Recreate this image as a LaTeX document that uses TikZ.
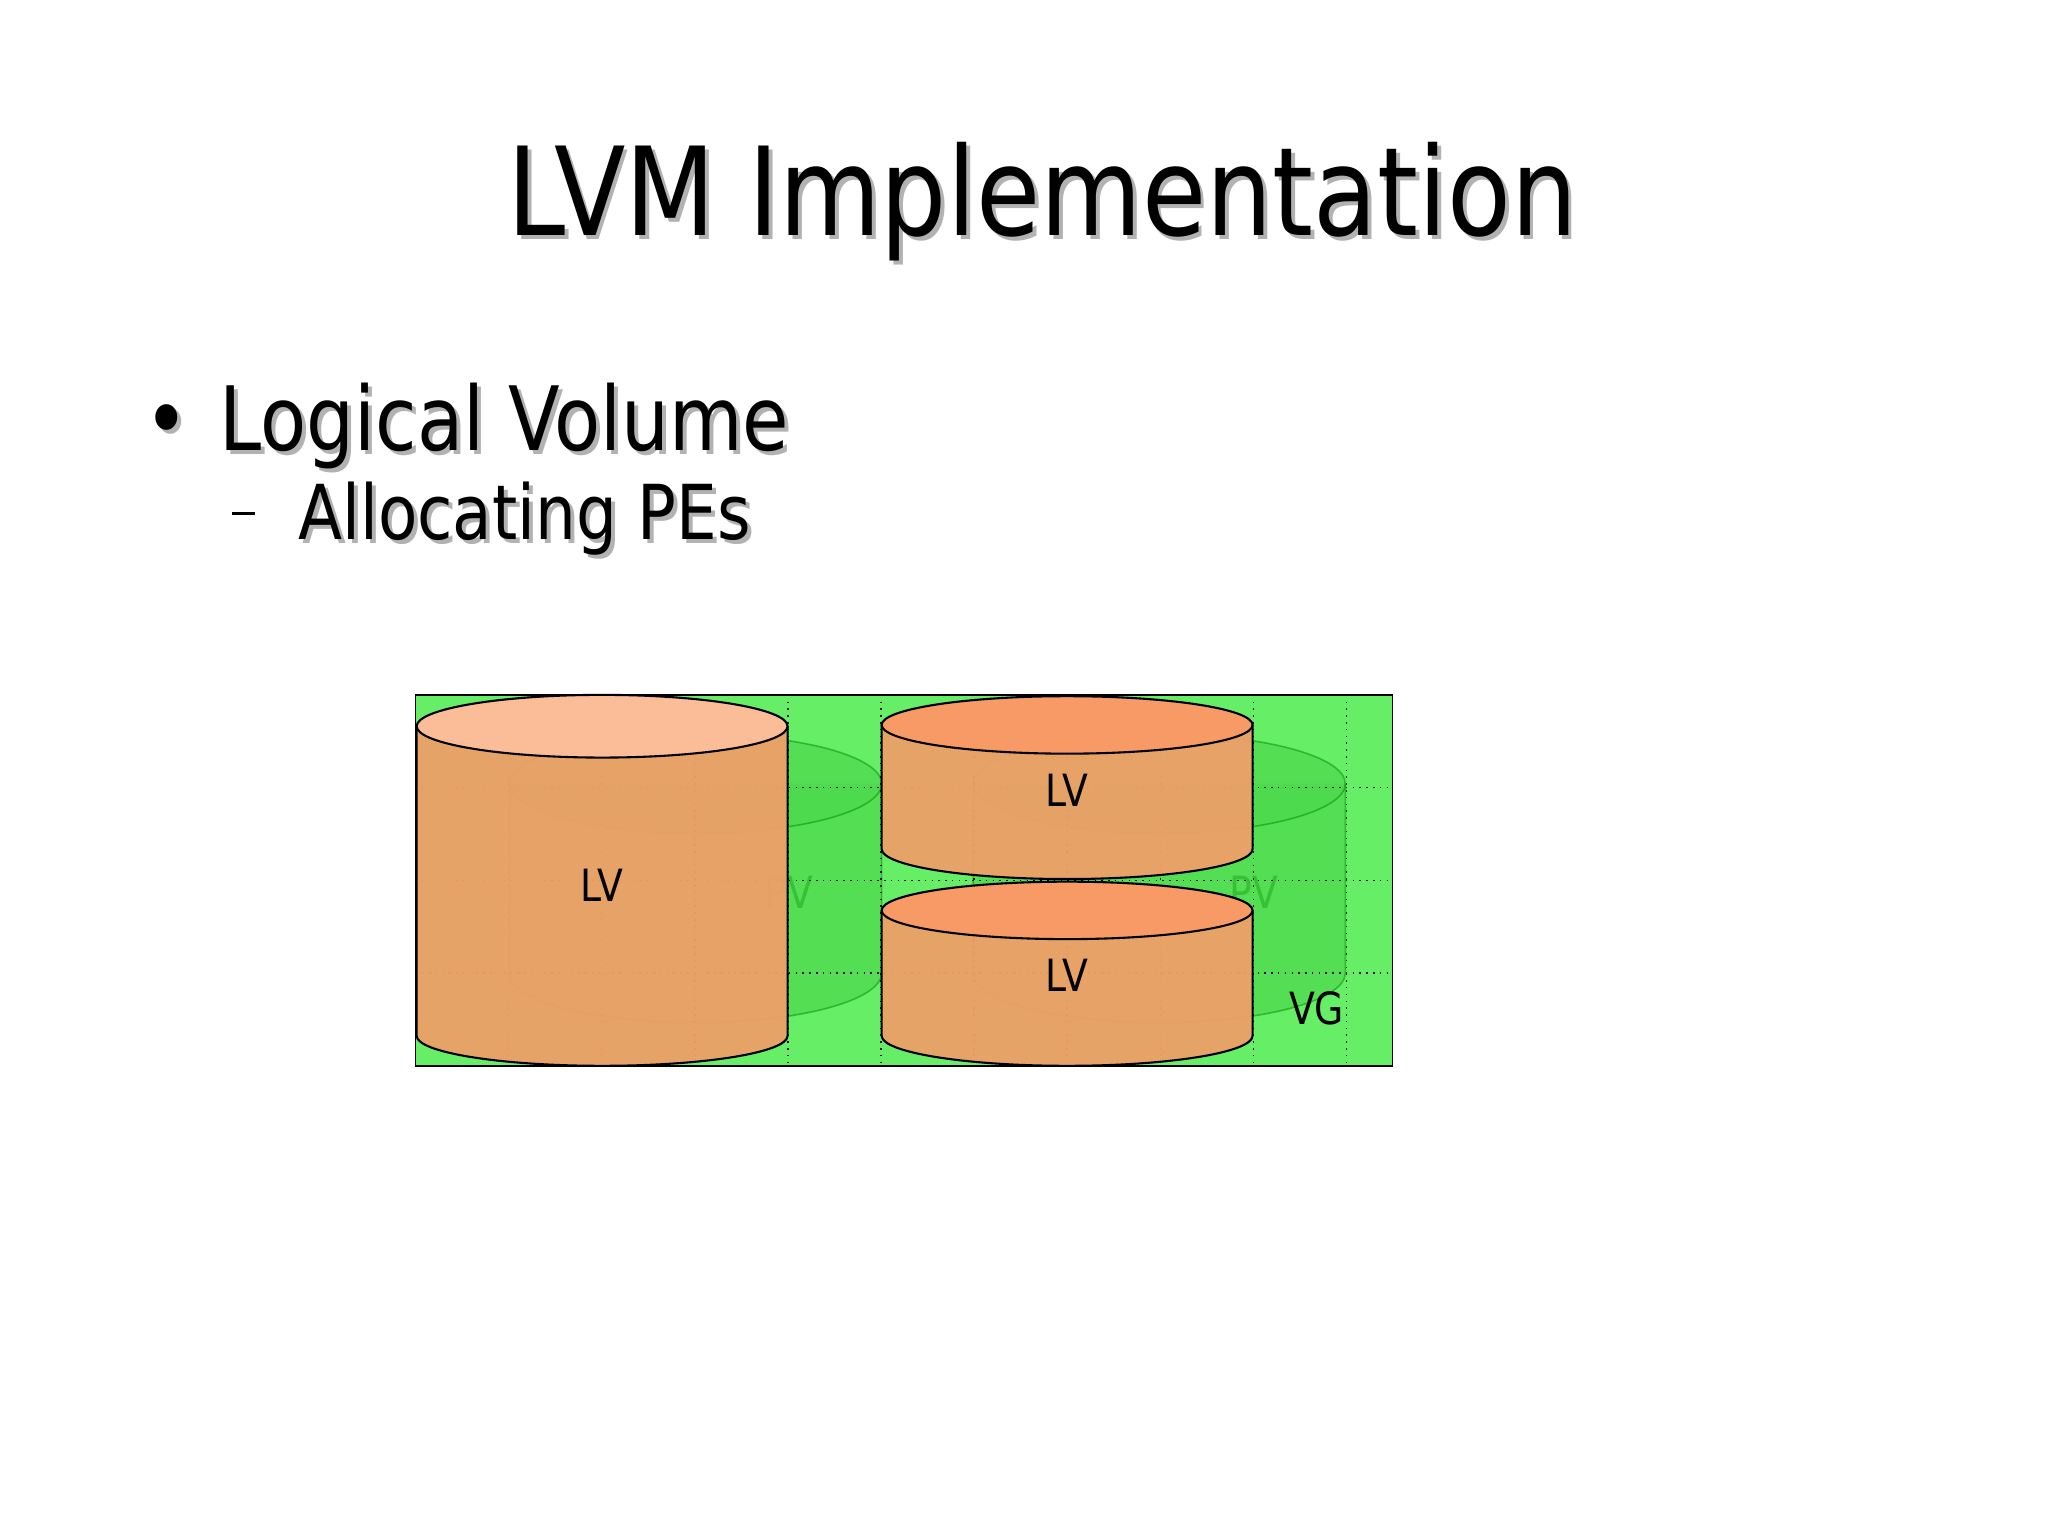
\documentclass[tikz,border=0pt]{standalone}
\usepackage{fontspec}
\setmainfont{DejaVu Sans}[FakeStretch=0.85]
\begin{document}
\begin{tikzpicture}[x=0.5pt,y=-0.5pt,
  lbl/.style={font=\fontsize{17}{18}\selectfont,inner sep=0},
  shad/.style={text=black!30},
  grid/.style={black,dotted,line width=0.6pt},
  pvfill/.style={fill=green!60!black,fill opacity=0.18,draw=green!55!black,draw opacity=0.5,line width=0.6pt},
  body/.style={fill=lvbody,fill opacity=0.96},
]
\definecolor{lvbody}{HTML}{ECA068}
\definecolor{vgfill}{HTML}{66EE66}
\definecolor{topA}{HTML}{FBBD98}
\definecolor{topB}{HTML}{F89A65}
\useasboundingbox (0,0) rectangle (1568,1175);
\fill[white] (0,0) rectangle (1568,1175);
% title
\node[shad,font=\fontsize{47}{56}\selectfont,anchor=base] at (801,183) {LVM Implementation};
\node (title)[font=\fontsize{47}{56}\selectfont,anchor=base] at (798,180) {LVM Implementation};
\node[shad,font=\fontsize{34}{36}\selectfont,anchor=base west,inner sep=0] at (113,348) {•\hspace{0.35em}Logical Volume};
\node (b1)[font=\fontsize{34}{36}\selectfont,anchor=base west,inner sep=0] at (110,345) {•\hspace{0.35em}Logical Volume};
\node[shad,font=\fontsize{29}{32}\selectfont,anchor=base west,inner sep=0] at (231,416) {Allocating PEs};
\node (b2)[font=\fontsize{29}{32}\selectfont,anchor=base west,inner sep=0] at (228,413) {Allocating PEs};
\draw[line width=1.2pt] (178,393) -- (195,393);
% VG box
\fill[vgfill] (318,532) rectangle (1066,816);
% PV cylinders (faint)
\foreach \xa/\xb in {390/675,745/1030}{
  \path[pvfill] (\xa,600) -- (\xa,745) arc[start angle=180,end angle=0,x radius={(\xb-\xa)/2},y radius=38] -- (\xb,600) arc[start angle=0,end angle=-180,x radius={(\xb-\xa)/2},y radius=38];
  \path[pvfill,fill opacity=0.05] (\xb,600) arc[start angle=0,end angle=180,x radius={(\xb-\xa)/2},y radius=38];
}
\node[lbl,text=green!55!black,opacity=0.35] (pv1) at (604,683) {PV};
\node[lbl,text=green!55!black,opacity=0.35] (pv2) at (960,683) {PV};
% grid
\foreach \x in {389.3,460.6,531.9,603.2,674.5,745.8,817.1,888.4,959.7,1031}{\draw[grid] (\x,532) -- (\x,816);}
\foreach \y in {603,674,745}{\draw[grid] (318,\y) -- (1066,\y);}
% LV cylinders
\newcommand{\lvcyl}[6]{% x1 x2 ytop rytop ybot topcolor
  \path[body] (#1,#3) -- (#1,#5) arc[start angle=180,end angle=0,x radius={(#2-#1)/2},y radius=23] -- (#2,#3) -- cycle;
  \draw[line width=0.8pt] (#1,#3) -- (#1,#5) arc[start angle=180,end angle=0,x radius={(#2-#1)/2},y radius=23] -- (#2,#3);
  \draw[line width=0.8pt,fill=#6] ({(#1+#2)/2},#3) ellipse[x radius={(#2-#1)/2},y radius=#4];
}
\lvcyl{319}{603}{556}{24}{793}{topA}
\lvcyl{675}{959}{555}{22}{650}{topB}
\lvcyl{675}{959}{697}{22}{793}{topB}
\draw[line width=0.6pt] (318,532) rectangle (1066,816);
\node[lbl] (lv1) at (461,678) {LV};
\node[lbl] (lv2) at (817,605) {LV};
\node[lbl] (lv3) at (817,747) {LV};
\node[lbl] (vg) at (1008,772) {VG};
\end{tikzpicture}
\end{document}
